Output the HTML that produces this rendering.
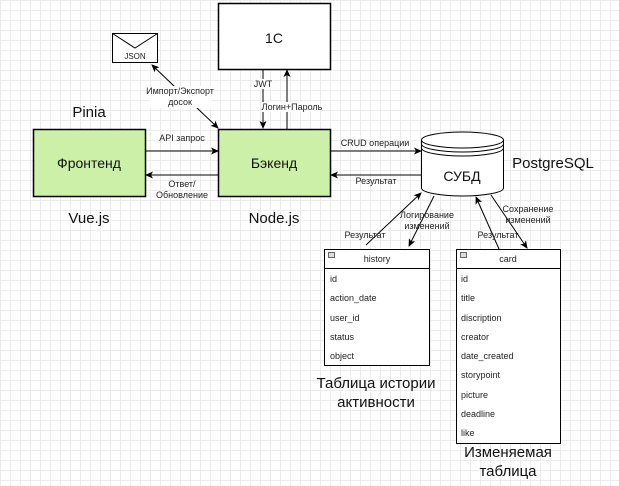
<!DOCTYPE html><html><head><meta charset="utf-8"><style>
body{margin:0;width:619px;height:481px;overflow:hidden;background:#fff;
background-image:linear-gradient(#ececec 1px,transparent 1px),linear-gradient(90deg,#ececec 1px,transparent 1px);background-size:10px 10px;font-family:"Liberation Sans",sans-serif}
</style></head><body>
<svg width="619" height="481" xmlns="http://www.w3.org/2000/svg" font-family="Liberation Sans, sans-serif">
<defs><marker id="a" markerWidth="8" markerHeight="8" refX="7" refY="4" orient="auto" markerUnits="userSpaceOnUse"><path d="M0,0.5 L8,4 L0,7.5 L2,4z" fill="#000"/></marker>
<marker id="b" markerWidth="8" markerHeight="8" refX="1" refY="4" orient="auto" markerUnits="userSpaceOnUse"><path d="M8,0.5 L0,4 L8,7.5 L6,4z" fill="#000"/></marker></defs>
<g stroke="#000" stroke-width="1" fill="none">
<rect x="112.5" y="33.5" width="45" height="29" fill="#fff"/>
<path d="M112.5,33.5 L135,48 L157.5,33.5"/>
<rect x="218.5" y="3.5" width="112" height="66" fill="#fff" stroke-width="1.5"/>
<rect x="33.5" y="129.5" width="112" height="67" fill="#ccf0a8" stroke-width="1.5"/>
<rect x="218.5" y="129.5" width="112" height="67" fill="#ccf0a8" stroke-width="1.5"/>
<path d="M421.5,140 V188 A41,8 0 0 0 503.5,188 V140 A41,8 0 0 0 421.5,140z" fill="#fff"/>
<path d="M421.5,140 A41,8 0 0 0 503.5,140 M421.5,144 A41,8 0 0 0 503.5,144 M421.5,148 A41,8 0 0 0 503.5,148"/>
<line x1="152" y1="65" x2="218" y2="128" marker-start="url(#b)" marker-end="url(#a)"/>
<line x1="263" y1="70" x2="263" y2="128" marker-end="url(#a)"/>
<line x1="287" y1="129" x2="287" y2="70" marker-end="url(#a)"/>
<line x1="146" y1="151" x2="218" y2="151" marker-end="url(#a)"/>
<line x1="218" y1="175" x2="146" y2="175" marker-end="url(#a)"/>
<line x1="331" y1="151" x2="421" y2="151" marker-end="url(#a)"/>
<line x1="421" y1="175" x2="331" y2="175" marker-end="url(#a)"/>
<line x1="366" y1="245" x2="421" y2="193" marker-end="url(#a)"/>
<line x1="434" y1="196" x2="409" y2="246" marker-end="url(#a)"/>
<line x1="499" y1="249" x2="476" y2="197" marker-end="url(#a)"/>
<line x1="491" y1="195" x2="527" y2="248" marker-end="url(#a)"/>
<rect x="324.5" y="249.5" width="105" height="116" fill="#fff"/>
<line x1="324.5" y1="268.5" x2="429.5" y2="268.5"/>
<rect x="456.5" y="249.5" width="104" height="194" fill="#fff"/>
<line x1="456.5" y1="268.5" x2="560.5" y2="268.5"/>
<rect x="328.5" y="252.5" width="6" height="5" fill="#ddd" stroke="#666"/>
<rect x="460.5" y="252.5" width="6" height="5" fill="#ddd" stroke="#666"/>
</g>
<g font-size="9" fill="#222">
<text x="135" y="59" text-anchor="middle" font-size="8">JSON</text>
<g text-anchor="middle">
<rect x="150" y="86" width="62" height="22" fill="#fff"/>
<text x="180" y="94">Импорт/Экспорт</text><text x="180" y="105">досок</text>
<rect x="253" y="79" width="20" height="10" fill="#fff"/>
<text x="263" y="87">JWT</text>
<rect x="262" y="102" width="58" height="10" fill="#fff"/>
<text x="292" y="110">Логин+Пароль</text>
<text x="182" y="141">API запрос</text>
<text x="182" y="187">Ответ/</text><text x="182" y="198">Обновление</text>
<text x="375" y="146">CRUD операции</text>
<text x="376" y="184">Результат</text>
<text x="365" y="238">Результат</text>
<text x="427" y="218">Логирование</text><text x="427" y="229">изменений</text>
<text x="498" y="238">Результат</text>
<text x="528" y="212">Сохранение</text><text x="528" y="223">изменений</text>
<text x="377" y="262">history</text><text x="508" y="262">card</text>
</g>
<text x="330" y="282">id</text><text x="330" y="301">action_date</text><text x="330" y="321">user_id</text><text x="330" y="340">status</text><text x="330" y="359">object</text>
<text x="461" y="282">id</text><text x="461" y="301">title</text><text x="461" y="321">discription</text><text x="461" y="340">creator</text><text x="461" y="359">date_created</text><text x="461" y="378">storypoint</text><text x="461" y="398">picture</text><text x="461" y="417">deadline</text><text x="461" y="436">like</text>
</g>
<g font-size="14" fill="#111" text-anchor="middle">
<text x="274" y="43">1С</text>
<text x="89" y="168">Фронтенд</text>
<text x="274" y="168">Бэкенд</text>
<text x="462" y="181">СУБД</text>
</g>
<g font-size="15" fill="#111" text-anchor="middle">
<text x="89" y="117">Pinia</text>
<text x="89" y="223">Vue.js</text>
<text x="274" y="223">Node.js</text>
<text x="553" y="168">PostgreSQL</text>
<text x="376" y="388">Таблица истории</text><text x="376" y="407">активности</text>
<text x="508" y="457">Изменяемая</text><text x="508" y="476">таблица</text>
</g>
</svg>
</body></html>
